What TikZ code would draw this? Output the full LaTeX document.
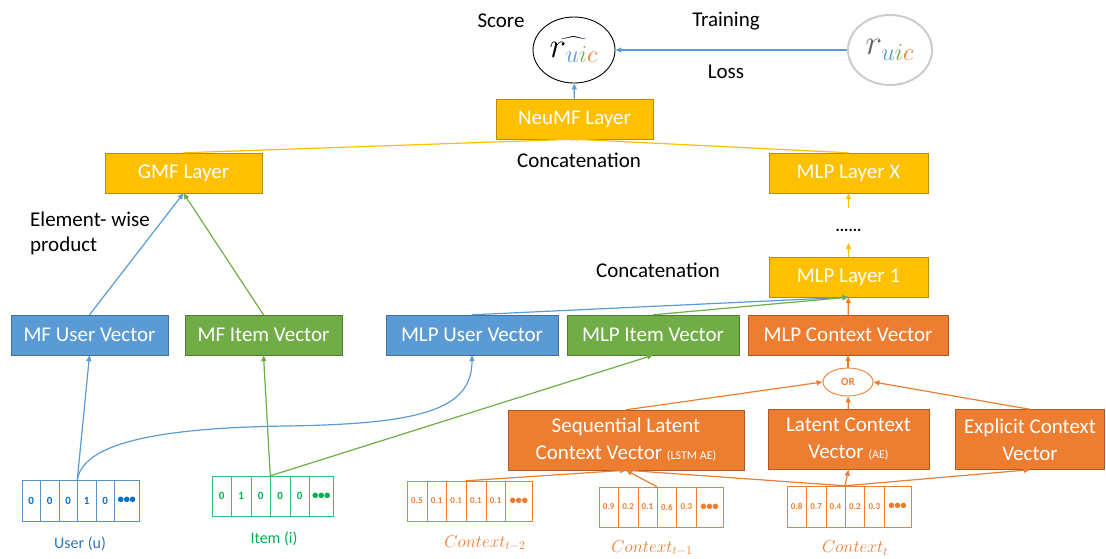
\documentclass[tikz,border=0pt]{standalone}
\usepackage{fontspec}
\setmainfont{Carlito}
\usetikzlibrary{arrows.meta,shapes.geometric}

\definecolor{ublue}{HTML}{5B9BD5}
\definecolor{ubluedk}{HTML}{41719C}
\definecolor{utext}{HTML}{0070C0}
\definecolor{uline}{HTML}{2E75B6}
\definecolor{igreen}{HTML}{70AD47}
\definecolor{igreendk}{HTML}{507E32}
\definecolor{itext}{HTML}{00B050}
\definecolor{corange}{HTML}{ED7D31}
\definecolor{corangedk}{HTML}{AE5A21}
\definecolor{lyellow}{HTML}{FFC000}
\definecolor{lyellowdk}{HTML}{BC8C00}

\newcommand{\celldots}{\textbullet\hspace{-0.5pt}\textbullet\hspace{-0.5pt}\textbullet}

\begin{document}
\begin{tikzpicture}[x=1pt,y=-1pt,
  box/.style={draw, minimum height=40pt, inner sep=0pt, text=white,
    font=\fontsize{21}{27}\selectfont, align=center},
  layer/.style={box, fill=lyellow, draw=lyellowdk, minimum width=157pt},
  bluebox/.style={box, fill=ublue, draw=ubluedk},
  greenbox/.style={box, fill=igreen, draw=igreendk},
  ctxbox/.style={box, fill=corange, draw=corangedk},
  lbl/.style={font=\fontsize{21}{25}\selectfont, inner sep=0pt},
  cell/.style={draw, inner sep=0pt, font=\bfseries\fontsize{11}{13}\selectfont},
  ucell/.style={cell, draw=uline!80, text=utext, minimum height=41pt},
  icell/.style={cell, draw=itext!80, text=itext, minimum height=40pt},
  ccell/.style={cell, draw=corange, text=corange, minimum height=40pt,
    font=\bfseries\fontsize{9}{11}\selectfont},
  dcell/.style={font=\bfseries\fontsize{13}{15}\selectfont},
  arr/.style={-{Triangle[length=6pt,width=5pt]}, line width=1.2pt},
  small/.style={font=\fontsize{12}{14}\selectfont}]
\useasboundingbox (0,0) rectangle (1106,558);

%% score and ground truth
\node[ellipse, draw, line width=0.9pt, minimum width=82pt, minimum height=66pt, inner sep=0pt,
  font=\fontsize{20}{24}\selectfont] (rhat) at (574,50)
  {\scalebox{1.7}{$\widehat{r_{\color{ublue}u\color{igreen}i\color{corange}c}}$}};
\node[ellipse, draw=black!20, line width=2pt, minimum width=84pt, minimum height=70pt, inner sep=0pt,
  font=\fontsize{20}{24}\selectfont] (rtrue) at (890,50)
  {\scalebox{1.7}{$\color{black!60}r_{\color{ublue}u\color{igreen}i\color{corange}c}$}};
\node[lbl] (score) at (501,21) {Score};
\node[lbl] (training) at (726,21) {Training};
\node[lbl] (loss) at (726,72) {Loss};
\draw[arr, ublue] (rtrue) -- (rhat);

%% layers
\node[layer] (neumf) at (574.5,119) {NeuMF Layer};
\node[layer] (gmf) at (183.5,173) {GMF Layer};
\node[layer, minimum width=159pt] (mlpx) at (848.5,173) {MLP Layer X};
\node[layer, minimum width=159pt] (mlp1) at (848.5,277) {MLP Layer 1};
\node[lbl] (concat1) at (579,160) {Concatenation};
\node[lbl] (concat2) at (658,270) {Concatenation};
\node[font=\bfseries\fontsize{16}{18}\selectfont, inner sep=0pt] (dots) at (848.5,230) {......};
\coordinate (dtop) at (848.5,208);
\coordinate (dbot) at (848.5,243);
\node[lbl, align=left, anchor=west] (elem) at (30,233) {Element- wise\\product};
\draw[-{Triangle[length=3pt,width=4pt]}, lyellow, line width=1.2pt] (gmf.north) -- (neumf.south);
\draw[-{Triangle[length=3pt,width=4pt]}, lyellow, line width=1.2pt] (mlpx.north) -- (neumf.south);
\draw[arr, ublue] (neumf) -- (rhat);
\draw[arr, lyellow] (mlp1) -- (dbot);
\draw[arr, lyellow] (dtop) -- (mlpx);

%% embedding vectors
\node[bluebox, minimum width=157pt] (mfu) at (89.5,335) {MF User Vector};
\node[greenbox, minimum width=157pt] (mfi) at (263.5,335) {MF Item Vector};
\node[bluebox, minimum width=172pt] (mlpu) at (472,335) {MLP User Vector};
\node[greenbox, minimum width=172pt] (mlpi) at (653,335) {MLP Item Vector};
\node[ctxbox, minimum width=200pt] (mlpc) at (848,335) {MLP Context Vector};
\draw[arr, ublue] (mfu.north) -- (gmf.south);
\draw[arr, igreen] (mfi.north) -- (gmf.south);
\draw[arr, ublue] (mlpu.north) -- (mlp1.south);
\draw[arr, igreen] (mlpi.north) -- (mlp1.south);
\draw[arr, corange] (mlpc) -- (mlp1);

%% context vectors
\node[ellipse, draw=corange, fill=white, line width=0.9pt, minimum width=50pt, minimum height=28pt,
  inner sep=0pt, text=corange, font=\bfseries\fontsize{11}{13}\selectfont] (or) at (848,382) {OR};
\node[ctxbox, minimum width=236pt, minimum height=60pt] (seq) at (626,440)
  {Sequential Latent\\Context Vector {\fontsize{12}{14}\selectfont(LSTM AE)}};
\node[ctxbox, minimum width=161pt, minimum height=60pt] (latent) at (848.5,439.5)
  {Latent Context\\Vector {\fontsize{12}{14}\selectfont(AE)}};
\node[ctxbox, minimum width=149pt, minimum height=60pt] (explicit) at (1030,439.5)
  {Explicit Context\\Vector};
\draw[arr, corange] (seq.north) -- (or.west);
\draw[arr, corange] (latent) -- (or);
\draw[arr, corange] (explicit.north) -- (or.east);
\draw[arr, corange] (or) -- (mlpc);

%% user (u)
\foreach \v [count=\k] in {0,0,0,1,0}
  \node[ucell, minimum width=18.5pt] (u\k) at (22+\k*18.5-9.25,500.5) {\v};
\node[ucell, minimum width=24.5pt, dcell] (u6) at (126.75,500.5) {\celldots};
\node[font=\fontsize{16}{19}\selectfont, text=uline] (ulbl) at (80,544) {User (u)};

%% item (i)
\foreach \v [count=\k] in {0,1,0,0,0}
  \node[icell, minimum width=19.5pt] (i\k) at (212+\k*19.5-9.75,496) {\v};
\node[icell, minimum width=23.5pt, dcell] (i6) at (321.25,496) {\celldots};
\node[font=\fontsize{16}{19}\selectfont, text=itext] (ilbl) at (274,539) {Item (i)};

%% context t-2
\foreach \v [count=\k] in {0.5,0.1,0.1,0.1,0.1}
  \node[ccell, minimum width=19.7pt] (a\k) at (407+\k*19.7-9.85,501) {\v};
\node[ccell, minimum width=26.5pt, dcell] (a6) at (518.75,501) {\raisebox{-5pt}{\celldots}};
\node[text=corange, font=\fontsize{17}{20}\selectfont] (albl) at (485,543) {$Context_{t-2}$};

%% context t-1
\foreach \v [count=\k] in {0.9,0.2,0.1,0.6,0.3}
  \node[ccell, minimum width=19.4pt] (b\k) at (599+\k*19.4-9.7,507) {\v};
\node[ccell, minimum width=27pt, dcell] (b6) at (709.5,507) {\raisebox{-5pt}{\celldots}};
\node[text=corange, font=\fontsize{17}{20}\selectfont] (blbl) at (652,548) {$Context_{t-1}$};

%% context t
\foreach \v [count=\k] in {0.8,0.7,0.4,0.2,0.3}
  \node[ccell, minimum width=19.4pt, minimum height=41pt] (c\k) at (787+\k*19.4-9.7,506.5) {\v};
\node[ccell, minimum width=27pt, minimum height=41pt, dcell] (c6) at (897.5,506.5) {\raisebox{-5pt}{\celldots}};
\node[text=corange, font=\fontsize{17}{20}\selectfont] (clbl) at (855,548) {$Context_{t}$};

%% inputs to vectors
\draw[arr, ublue] (u4.north west) -- (mfu.south);
\draw[arr, ublue] (u4.north west) .. controls (83,445) and (150,428) .. (286,426)
  .. controls (420,424) and (472,410) .. (mlpu.south);
\draw[arr, igreen] (i4.north west) -- (mfi.south);
\draw[arr, igreen] (i4.north west) -- (mlpi.south);
\draw[arr, corange] (a4.north west) -- (seq.south);
\draw[arr, corange] (b4.north west) -- (seq.south);
\draw[arr, corange] (c4.north west) -- (seq.south);
\draw[arr, corange] (c4.north west) -- (latent.south);
\draw[arr, corange] (c4.north west) -- (explicit.south);
\end{tikzpicture}
\end{document}
